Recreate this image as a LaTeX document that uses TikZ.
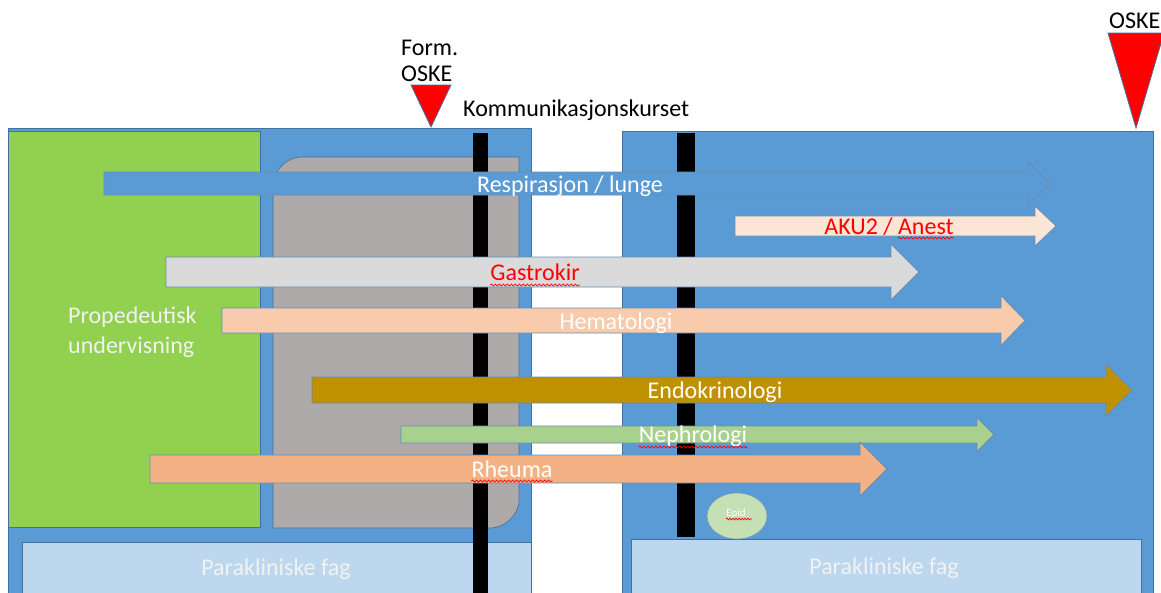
\documentclass[tikz,border=0pt]{standalone}
\usepackage{fontspec}
\setmainfont{Carlito}
\usetikzlibrary{decorations.pathmorphing,shapes.geometric}
\definecolor{pblue}{HTML}{5B9BD5}
\definecolor{pborder}{HTML}{41719C}
\definecolor{pgreen}{HTML}{92D050}
\definecolor{pgray}{HTML}{AEAAAA}
\definecolor{plight}{HTML}{BDD7EE}
\definecolor{pepid}{HTML}{C5E0B4}
\definecolor{akucol}{HTML}{FBE5D6}
\definecolor{gastrocol}{HTML}{DADADA}
\definecolor{hemacol}{HTML}{F8CBAD}
\definecolor{endocol}{HTML}{BF9000}
\definecolor{nephrocol}{HTML}{A9D18E}
\definecolor{rheumacol}{HTML}{F4B183}
\definecolor{pwhite}{HTML}{F2F2F2}
\newcommand{\barrow}[7]{%
  \draw[arrowshape, fill=#1] (#2,{#5-#6}) -- (#3,{#5-#6}) -- (#3,{#5-#7}) -- (#4,#5)
    -- (#3,{#5+#7}) -- (#3,{#5+#6}) -- (#2,{#5+#6}) -- cycle;}
\tikzset{
  panel/.style={draw=pborder, line width=0.8pt, fill=pblue},
  greenbox/.style={draw=pborder, line width=0.6pt, fill=pgreen},
  graybox/.style={draw=pborder, line width=0.6pt, fill=pgray},
  lightbox/.style={draw=pborder, line width=0.6pt, fill=plight},
  arrowshape/.style={draw=pborder!80, line width=0.8pt, line join=miter},
  tri/.style={draw=pborder, line width=0.8pt, fill=red},
  lbl/.style={inner sep=0pt, anchor=base},
  lblw/.style={inner sep=0pt, anchor=base west},
  squig/.style={draw=red, line width=0.7pt, decorate,
    decoration={snake, segment length=4pt, amplitude=1pt}}
}
\begin{document}
\begin{tikzpicture}[x=1pt, y=-1pt, font=\fontsize{24}{30}\selectfont]
\useasboundingbox[fill=white] (0,0) rectangle (1161,592);
% panels
\draw[panel] (8,128) rectangle (531,600);
\draw[panel] (622,131) rectangle (1153,600);
\draw[greenbox] (8,131) rectangle (260,527);
\draw[graybox] (273,528) -- (273,185) .. controls (273,169.5) and (288.5,157) .. (301,157)
  -- (519,157) -- (519,500) .. controls (519,515.5) and (503.5,528) .. (491,528) -- cycle;
\draw[lightbox] (22,542) rectangle (531,600);
\draw[lightbox] (631,539) rectangle (1141,600);
% Kommunikasjonskurset bars
\fill[black] (473,133) rectangle (488,600);
\fill[black] (677,133) rectangle (695,537);
% Epid
\node[draw=pborder!70, line width=0.6pt, fill=pepid, ellipse, minimum width=60pt,
  minimum height=46pt, inner sep=0pt] (epid) at (737,516) {};
\node[lbl, text=white, font=\fontsize{11}{13}\selectfont] (epidtxt) at (736,516) {Epid};
\draw[squig, decoration={snake, segment length=3pt, amplitude=0.8pt}]
  ([yshift=-3pt]epidtxt.base west) -- ([xshift=6pt,yshift=-3pt]epidtxt.base east);
% arrows
\barrow{pblue}{104}{1028}{1050}{183.5}{11.5}{22}
\barrow{akucol}{735}{1035}{1056}{226}{10}{20}
\barrow{gastrocol}{166}{891}{919}{272}{15}{28}
\barrow{hemacol}{222}{1001}{1025}{320.5}{12.5}{25}
\barrow{endocol}{312}{1106}{1132}{390}{13}{26}
\barrow{nephrocol}{401}{977}{994}{434.5}{8.5}{17}
\barrow{rheumacol}{150}{860}{887}{469}{14}{27}
% arrow labels
\node[lbl, text=white] (resp) at (570,192) {Respirasjon / lunge};
\node[lbl, text=red] (aku) at (889,234) {AKU2 / Anest};
\node[lbl, text=red] (gastro) at (535,280) {Gastrokir};
\node[lbl, text=white] (hema) at (616,329) {Hematologi};
\node[lbl, text=white] (endo) at (715,398) {Endokrinologi};
\node[lbl, text=white] (nephro) at (693,442) {Nephrologi};
\node[lbl, text=white] (rheuma) at (512,477) {Rheuma};
% spell-check squiggles
\draw[squig] ([xshift=-56pt,yshift=-4pt]aku.base east) -- ([yshift=-4pt]aku.base east);
\draw[squig] ([yshift=-5pt]gastro.base west) -- ([yshift=-5pt]gastro.base east);
\draw[squig] ([yshift=-5pt]nephro.base west) -- ([yshift=-5pt]nephro.base east);
\draw[squig] ([yshift=-4pt]rheuma.base west) -- ([yshift=-4pt]rheuma.base east);
% other labels
\node[lblw, text=pwhite, align=left] (prop) at (68,323) {Propedeutisk};
\node[lblw, text=pwhite, align=left] (underv) at (68,353) {undervisning};
\node[lbl, text=pwhite] (para1) at (276,575) {Parakliniske fag};
\node[lbl, text=pwhite] (para2) at (884,574) {Parakliniske fag};
\node[lblw] (form) at (401,55) {Form.};
\node[lblw] (formoske) at (401,81) {OSKE};
\node[lblw] (komm) at (463,116) {Kommunikasjonskurset};
\node[lblw] (oske) at (1109,28) {OSKE};
% triangles
\draw[tri] (411,85) -- (451,85) -- (431,127) -- cycle;
\draw[tri] (1108,33) -- (1164,33) -- (1136,128) -- cycle;
\end{tikzpicture}
\end{document}
